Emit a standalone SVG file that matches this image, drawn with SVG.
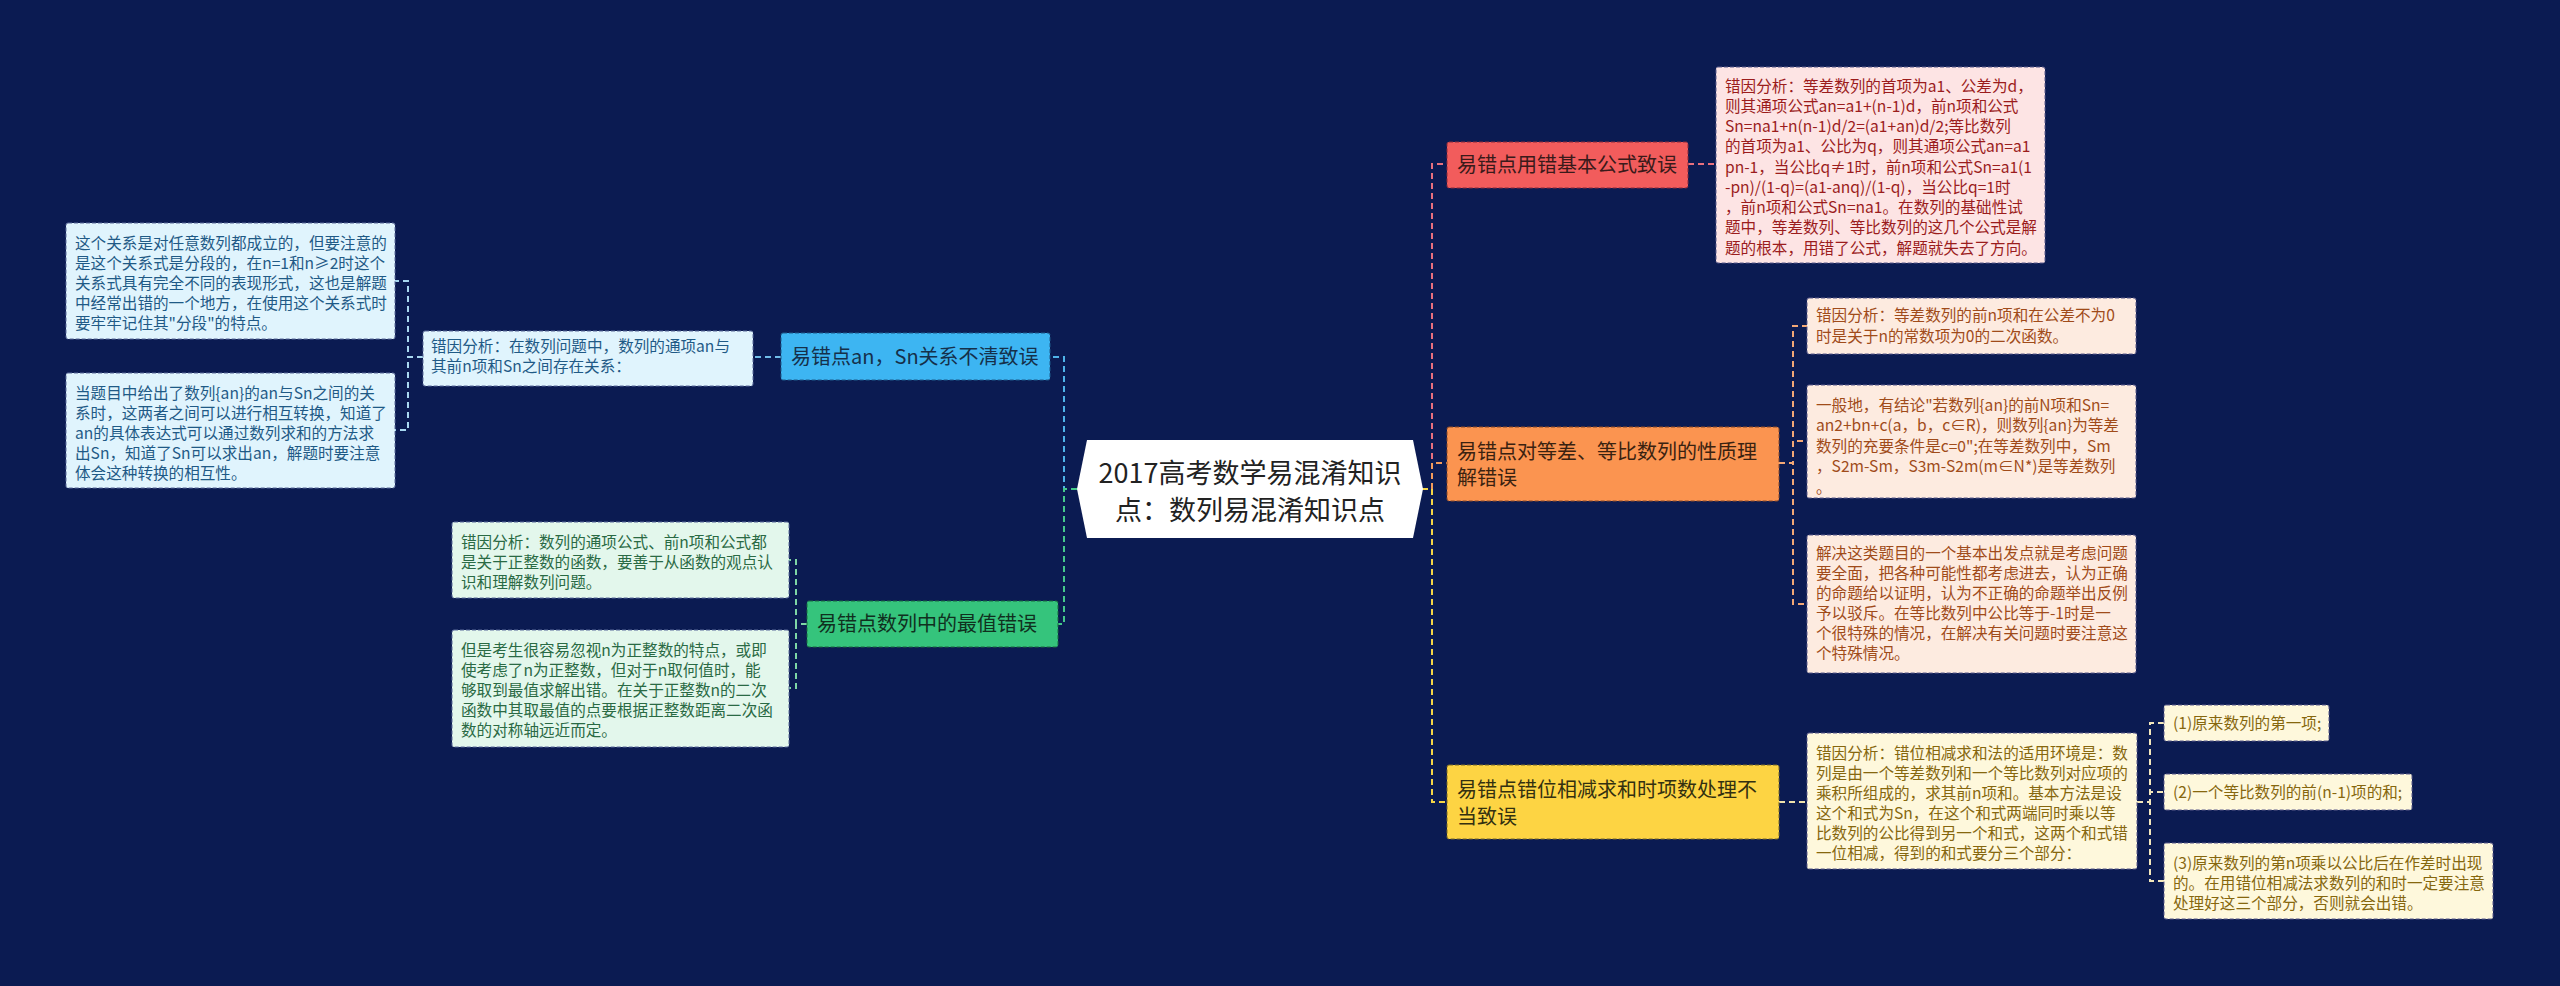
<svg xmlns="http://www.w3.org/2000/svg" width="2560" height="986" viewBox="0 0 2560 986">
<style>
text{font-family:"Noto Sans CJK SC","Noto Sans",sans-serif;}
.lf{font-size:15.6px}
.br{font-size:20px}
.ct{font-size:27px;fill:#222;text-anchor:middle}
.c{fill:none;stroke-width:2;stroke-dasharray:6 4}
.nb{stroke-width:1;stroke-dasharray:4 2}
</style>
<rect width="2560" height="986" fill="#0b1b52"/>
<g id="connectors">
<path class="c" stroke="#e8707e" d="M1422,489 H1432 V164 H1447"/>
<path class="c" stroke="#f39a5b" d="M1422,489 H1432 V463 H1447"/>
<path class="c" stroke="#f5d547" d="M1422,489 H1432 V802 H1447"/>
<path class="c" stroke="#e8707e" d="M1688,164 H1716"/>
<path class="c" stroke="#f3a876" d="M1779,463 H1793 V326 H1807"/>
<path class="c" stroke="#f3a876" d="M1779,463 H1793 V441 H1807"/>
<path class="c" stroke="#f3a876" d="M1779,463 H1793 V604 H1807"/>
<path class="c" stroke="#efe2ac" d="M1779,802 H1807"/>
<path class="c" stroke="#f3e7bb" d="M2137,802 H2150 V723 H2164"/>
<path class="c" stroke="#f3e7bb" d="M2137,802 H2150 V792 H2164"/>
<path class="c" stroke="#f3e7bb" d="M2137,802 H2150 V881 H2164"/>
<path class="c" stroke="#4fb3e8" d="M1077,489 H1064 V357 H1050"/>
<path class="c" stroke="#45c98a" d="M1077,489 H1064 V624 H1058"/>
<path class="c" stroke="#6fbde8" d="M781,357 H753"/>
<path class="c" stroke="#a8d8f0" d="M423,357 H408 V281 H395"/>
<path class="c" stroke="#a8d8f0" d="M423,357 H408 V430 H395"/>
<path class="c" stroke="#7ed6a6" d="M807,624 H796 V560 H789"/>
<path class="c" stroke="#7ed6a6" d="M807,624 H796 V688 H789"/>
</g>
<g id="center">
<polygon points="1087,440 1413,440 1423,489 1413,538 1087,538 1077,489" fill="#ffffff"/>
<text class="ct" x="1250" y="482.5">2017高考数学易混淆知识</text>
<text class="ct" x="1250" y="519.5">点：数列易混淆知识点</text>
</g>
<g id="b1">
<rect class="nb" x="1447" y="142" width="241" height="46" rx="2" fill="#f25c5c" stroke="#8a2a3a"/>
<text class="br" x="1457" y="172" fill="#3a1a1a">易错点用错基本公式致误</text>
</g>
<g id="b1-leaf">
<rect class="nb" x="1716" y="67" width="329" height="196" rx="2" fill="#fde4e4" stroke="#5a5a8a"/>
<g class="lf" fill="#9b1c1c">
<text x="1725" y="91.5">错因分析：等差数列的首项为a1、公差为d，</text>
<text x="1725" y="111.8">则其通项公式an=a1+(n-1)d，前n项和公式</text>
<text x="1725" y="132">Sn=na1+n(n-1)d/2=(a1+an)d/2;等比数列</text>
<text x="1725" y="152.3">的首项为a1、公比为q，则其通项公式an=a1</text>
<text x="1725" y="172.5">pn-1，当公比q≠1时，前n项和公式Sn=a1(1</text>
<text x="1725" y="192.8">-pn)/(1-q)=(a1-anq)/(1-q)，当公比q=1时</text>
<text x="1725" y="213">，前n项和公式Sn=na1。在数列的基础性试</text>
<text x="1725" y="233.3">题中，等差数列、等比数列的这几个公式是解</text>
<text x="1725" y="253.5">题的根本，用错了公式，解题就失去了方向。</text>
</g>
</g>
<g id="b2">
<rect class="nb" x="1447" y="427" width="332" height="74" rx="2" fill="#fb9450" stroke="#8a4a2a"/>
<text class="br" x="1457" y="459" fill="#3a2210">易错点对等差、等比数列的性质理</text>
<text class="br" x="1457" y="485" fill="#3a2210">解错误</text>
</g>
<g id="b2-leaf1">
<rect class="nb" x="1807" y="298" width="329" height="56" rx="2" fill="#fdebe0" stroke="#5a5a8a"/>
<g class="lf" fill="#a04b1a">
<text x="1816" y="321">错因分析：等差数列的前n项和在公差不为0</text>
<text x="1816" y="341.5">时是关于n的常数项为0的二次函数。</text>
</g>
</g>
<g id="b2-leaf2">
<rect class="nb" x="1807" y="385" width="329" height="113" rx="2" fill="#fdebe0" stroke="#5a5a8a"/>
<g class="lf" fill="#a04b1a">
<text x="1816" y="410.5">一般地，有结论"若数列{an}的前N项和Sn=</text>
<text x="1816" y="431">an2+bn+c(a，b，c∈R)，则数列{an}为等差</text>
<text x="1816" y="451.5">数列的充要条件是c=0";在等差数列中，Sm</text>
<text x="1816" y="472">，S2m-Sm，S3m-S2m(m∈N*)是等差数列</text>
<text x="1816" y="492.5">。</text>
</g>
</g>
<g id="b2-leaf3">
<rect class="nb" x="1807" y="535" width="329" height="138" rx="2" fill="#fdebe0" stroke="#5a5a8a"/>
<g class="lf" fill="#a04b1a">
<text x="1816" y="558.5">解决这类题目的一个基本出发点就是考虑问题</text>
<text x="1816" y="578.5">要全面，把各种可能性都考虑进去，认为正确</text>
<text x="1816" y="598.5">的命题给以证明，认为不正确的命题举出反例</text>
<text x="1816" y="618.5">予以驳斥。在等比数列中公比等于-1时是一</text>
<text x="1816" y="638.5">个很特殊的情况，在解决有关问题时要注意这</text>
<text x="1816" y="658.5">个特殊情况。</text>
</g>
</g>
<g id="b3">
<rect class="nb" x="1447" y="765" width="332" height="74" rx="2" fill="#fdd443" stroke="#7a6a2a"/>
<text class="br" x="1457" y="797" fill="#333010">易错点错位相减求和时项数处理不</text>
<text class="br" x="1457" y="824" fill="#333010">当致误</text>
</g>
<g id="b3-leaf">
<rect class="nb" x="1807" y="733" width="330" height="136" rx="2" fill="#fef8dc" stroke="#5a5a8a"/>
<g class="lf" fill="#86670e">
<text x="1816" y="758.5">错因分析：错位相减求和法的适用环境是：数</text>
<text x="1816" y="778.5">列是由一个等差数列和一个等比数列对应项的</text>
<text x="1816" y="798.5">乘积所组成的，求其前n项和。基本方法是设</text>
<text x="1816" y="818.5">这个和式为Sn，在这个和式两端同时乘以等</text>
<text x="1816" y="838.5">比数列的公比得到另一个和式，这两个和式错</text>
<text x="1816" y="858.5">一位相减，得到的和式要分三个部分：</text>
</g>
</g>
<g id="b3-sub1">
<rect class="nb" x="2164" y="705" width="165" height="36" rx="2" fill="#fef8dc" stroke="#5a5a8a"/>
<text class="lf" x="2173" y="728.5" fill="#86670e">(1)原来数列的第一项;</text>
</g>
<g id="b3-sub2">
<rect class="nb" x="2164" y="774" width="248" height="36" rx="2" fill="#fef8dc" stroke="#5a5a8a"/>
<text class="lf" x="2173" y="797.5" fill="#86670e">(2)一个等比数列的前(n-1)项的和;</text>
</g>
<g id="b3-sub3">
<rect class="nb" x="2164" y="843" width="329" height="76" rx="2" fill="#fef8dc" stroke="#5a5a8a"/>
<g class="lf" fill="#86670e">
<text x="2173" y="868.5">(3)原来数列的第n项乘以公比后在作差时出现</text>
<text x="2173" y="888.5">的。在用错位相减法求数列的和时一定要注意</text>
<text x="2173" y="908.5">处理好这三个部分，否则就会出错。</text>
</g>
</g>
<g id="b4">
<rect class="nb" x="781" y="333" width="269" height="47" rx="2" fill="#3db5f2" stroke="#1e5a8a"/>
<text class="br" x="791" y="364" fill="#15304a">易错点an，Sn关系不清致误</text>
</g>
<g id="b4-leaf">
<rect class="nb" x="423" y="331" width="330" height="55" rx="2" fill="#e0f4fd" stroke="#5a6a9a"/>
<g class="lf" fill="#1f5a86">
<text x="431" y="351.5">错因分析：在数列问题中，数列的通项an与</text>
<text x="431" y="372">其前n项和Sn之间存在关系：</text>
</g>
</g>
<g id="b4-sub1">
<rect class="nb" x="66" y="223" width="329" height="116" rx="2" fill="#e0f4fd" stroke="#5a6a9a"/>
<g class="lf" fill="#1f5a86">
<text x="75" y="248.5">这个关系是对任意数列都成立的，但要注意的</text>
<text x="75" y="268.5">是这个关系式是分段的，在n=1和n≥2时这个</text>
<text x="75" y="288.5">关系式具有完全不同的表现形式，这也是解题</text>
<text x="75" y="308.5">中经常出错的一个地方，在使用这个关系式时</text>
<text x="75" y="328.5">要牢牢记住其"分段"的特点。</text>
</g>
</g>
<g id="b4-sub2">
<rect class="nb" x="66" y="373" width="329" height="115" rx="2" fill="#e0f4fd" stroke="#5a6a9a"/>
<g class="lf" fill="#1f5a86">
<text x="75" y="398.5">当题目中给出了数列{an}的an与Sn之间的关</text>
<text x="75" y="418.5">系时，这两者之间可以进行相互转换，知道了</text>
<text x="75" y="438.5">an的具体表达式可以通过数列求和的方法求</text>
<text x="75" y="458.5">出Sn，知道了Sn可以求出an，解题时要注意</text>
<text x="75" y="478.5">体会这种转换的相互性。</text>
</g>
</g>
<g id="b5">
<rect class="nb" x="807" y="601" width="251" height="46" rx="2" fill="#35c47c" stroke="#1a6a3e"/>
<text class="br" x="817" y="631" fill="#10301e">易错点数列中的最值错误</text>
</g>
<g id="b5-leaf1">
<rect class="nb" x="452" y="522" width="337" height="76" rx="2" fill="#e3f7ec" stroke="#5a6a9a"/>
<g class="lf" fill="#2a6a44">
<text x="461" y="547.5">错因分析：数列的通项公式、前n项和公式都</text>
<text x="461" y="567.5">是关于正整数的函数，要善于从函数的观点认</text>
<text x="461" y="587.5">识和理解数列问题。</text>
</g>
</g>
<g id="b5-leaf2">
<rect class="nb" x="452" y="630" width="337" height="117" rx="2" fill="#e3f7ec" stroke="#5a6a9a"/>
<g class="lf" fill="#2a6a44">
<text x="461" y="655.5">但是考生很容易忽视n为正整数的特点，或即</text>
<text x="461" y="675.5">使考虑了n为正整数，但对于n取何值时，能</text>
<text x="461" y="695.5">够取到最值求解出错。在关于正整数n的二次</text>
<text x="461" y="715.5">函数中其取最值的点要根据正整数距离二次函</text>
<text x="461" y="735.5">数的对称轴远近而定。</text>
</g>
</g>
</svg>
